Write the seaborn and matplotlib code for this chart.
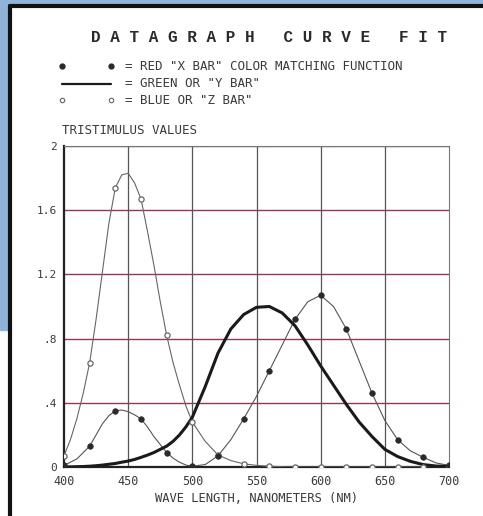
import matplotlib
matplotlib.use("Agg")
import matplotlib.pyplot as plt
import pandas as pd
import seaborn as sns
from matplotlib.lines import Line2D
from matplotlib.patches import Rectangle

# marker samples every 20 nm
WL_POINTS = [400, 420, 440, 460, 480, 500, 520, 540, 560, 580, 600, 620, 640, 660, 680, 700]
RED_POINTS = [0.01, 0.13, 0.35, 0.30, 0.09, 0.005, 0.07, 0.30, 0.60, 0.92, 1.07, 0.86, 0.46, 0.17, 0.06, 0.01]
BLUE_POINTS = [0.07, 0.65, 1.74, 1.67, 0.82, 0.28, 0.075, 0.02, 0.005, 0.0, 0.0, 0.0, 0.0, 0.0, 0.0, 0.0]

# drawn curves, read every 5 nm up to 500 and every 10 nm after
WL_CURVE = [400, 405, 410, 415, 420, 425, 430, 435, 440, 445, 450, 455, 460, 465, 470, 475, 480, 485, 490, 495,
            500, 510, 520, 530, 540, 550, 560, 570, 580, 590, 600, 610, 620, 630, 640, 650, 660, 670, 680, 690, 700]
RED_CURVE = [0.01, 0.03, 0.05, 0.09, 0.13, 0.20, 0.27, 0.32, 0.35, 0.355, 0.345, 0.325, 0.30, 0.25, 0.19, 0.14,
             0.09, 0.055, 0.03, 0.012, 0.005, 0.015, 0.07, 0.17, 0.30, 0.44, 0.60, 0.76, 0.92, 1.03, 1.07, 1.00,
             0.86, 0.66, 0.46, 0.29, 0.17, 0.10, 0.06, 0.025, 0.01]
GREEN_CURVE = [0.0, 0.001, 0.002, 0.003, 0.005, 0.008, 0.012, 0.017, 0.022, 0.03, 0.037, 0.047, 0.06, 0.074,
               0.09, 0.11, 0.13, 0.16, 0.20, 0.25, 0.31, 0.50, 0.71, 0.86, 0.95, 0.995, 1.0, 0.96, 0.88, 0.76,
               0.63, 0.51, 0.39, 0.28, 0.19, 0.11, 0.065, 0.035, 0.015, 0.006, 0.003]
BLUE_CURVE = [0.07, 0.17, 0.30, 0.46, 0.65, 0.92, 1.22, 1.52, 1.74, 1.82, 1.83, 1.77, 1.67, 1.47, 1.26, 1.03,
              0.82, 0.65, 0.51, 0.38, 0.28, 0.16, 0.075, 0.04, 0.02, 0.01, 0.005, 0.002, 0.0, 0.0, 0.0, 0.0,
              0.0, 0.0, 0.0, 0.0, 0.0, 0.0, 0.0, 0.0, 0.0]

X_TICKS = [400, 450, 500, 550, 600, 650, 700]
X_LABELS = ["400", "450", "500", "550", "600", "650", "700"]
Y_TICKS = [0, 0.4, 0.8, 1.2, 1.6, 2.0]
Y_LABELS = ["0", ".4", ".8", "1.2", "1.6", "2"]

MONO = "DejaVu Sans Mono"
INK = "#3a3a3a"

sns.set_style("white")
plt.rcParams["font.family"] = ["DejaVu Sans Mono"]

curves = pd.DataFrame({"wl": WL_CURVE, "red": RED_CURVE, "green": GREEN_CURVE, "blue": BLUE_CURVE})
points = pd.DataFrame({"wl": WL_POINTS, "red": RED_POINTS, "blue": BLUE_POINTS})

fig = plt.figure(figsize=(4.83, 5.16), dpi=100)
ax = fig.add_axes([64 / 483, 1 - 467 / 516, (449 - 64) / 483, (467 - 146) / 516])

# grid
for y in Y_TICKS[1:]:
    ax.axhline(y, color="#8e3a55", lw=1.0, zorder=1)
for x in X_TICKS[1:-1]:
    ax.axvline(x, color="#555555", lw=0.9, zorder=1)

sns.lineplot(data=curves, x="wl", y="blue", ax=ax, color="#666666", lw=0.8, zorder=3)
sns.lineplot(data=curves, x="wl", y="red", ax=ax, color="#555555", lw=0.8, zorder=3)
sns.lineplot(data=curves, x="wl", y="green", ax=ax, color="#1a1a1a", lw=2.2, zorder=4)
sns.scatterplot(data=points, x="wl", y="blue", ax=ax, marker="o", s=14, facecolor="white",
                edgecolor="#666666", linewidth=0.9, zorder=5)
sns.scatterplot(data=points, x="wl", y="red", ax=ax, marker="o", s=16, color="#2a2a2a",
                edgecolor="#2a2a2a", linewidth=0.5, zorder=6)

ax.set_xlim(400, 700)
ax.set_ylim(0, 2)
ax.set_xticks(X_TICKS)
ax.set_xticklabels(X_LABELS, fontsize=8.5, color=INK)
ax.set_yticks(Y_TICKS)
ax.set_yticklabels(Y_LABELS, fontsize=8, color=INK)
ax.tick_params(axis="x", length=0, pad=6)
ax.tick_params(axis="y", length=0, pad=5)
ax.set_xlabel("WAVE LENGTH, NANOMETERS (NM)", fontsize=8.7, color=INK, labelpad=3)
ax.set_ylabel("")
for side in ["left", "bottom"]:
    ax.spines[side].set_color("#222222")
    ax.spines[side].set_linewidth(1.6)
for side in ["top", "right"]:
    ax.spines[side].set_color("#777777")
    ax.spines[side].set_linewidth(0.8)

# title and legend block
fig.text(269 / 483, 1 - 38 / 516, "D A T A G R A P H   C U R V E   F I T", fontsize=11.5,
         family="Liberation Mono", color="#2a2a2a", ha="center", va="center", fontweight="bold")

legend_rows = [
    (66, "= RED \"X BAR\" COLOR MATCHING FUNCTION"),
    (83, "= GREEN OR \"Y BAR\""),
    (100, "= BLUE OR \"Z BAR\""),
]
for y_px, label in legend_rows:
    fig.text(125 / 483, 1 - y_px / 516, label, fontsize=9, color=INK, ha="left", va="center", family=MONO)

fig.add_artist(Line2D([62 / 483, 111 / 483], [1 - 84 / 516] * 2, color="#1a1a1a", lw=1.6))
for x_px in (62, 111):
    fig.add_artist(Line2D([x_px / 483], [1 - 66 / 516], marker="o", ms=3.5, color="#2a2a2a"))
    fig.add_artist(Line2D([x_px / 483], [1 - 100 / 516], marker="o", ms=3.2, markerfacecolor="white",
                          markeredgecolor="#666666", markeredgewidth=0.8))

fig.text(62 / 483, 1 - 130 / 516, "TRISTIMULUS VALUES", fontsize=9, color=INK, ha="left", va="center", family=MONO)

# scanned page frame
fig.add_artist(Rectangle((0, 0.36), 9 / 483, 0.64, transform=fig.transFigure, color="#8fb3d9", zorder=0))
fig.add_artist(Rectangle((0, 1 - 5 / 516), 1, 5 / 516, transform=fig.transFigure, color="#8fb3d9", zorder=0))
fig.add_artist(Line2D([10 / 483, 10 / 483], [0, 1 - 6 / 516], color="#111111", lw=3))
fig.add_artist(Line2D([10 / 483, 1], [1 - 6 / 516] * 2, color="#111111", lw=3))

fig.savefig("out.png", dpi=100)
